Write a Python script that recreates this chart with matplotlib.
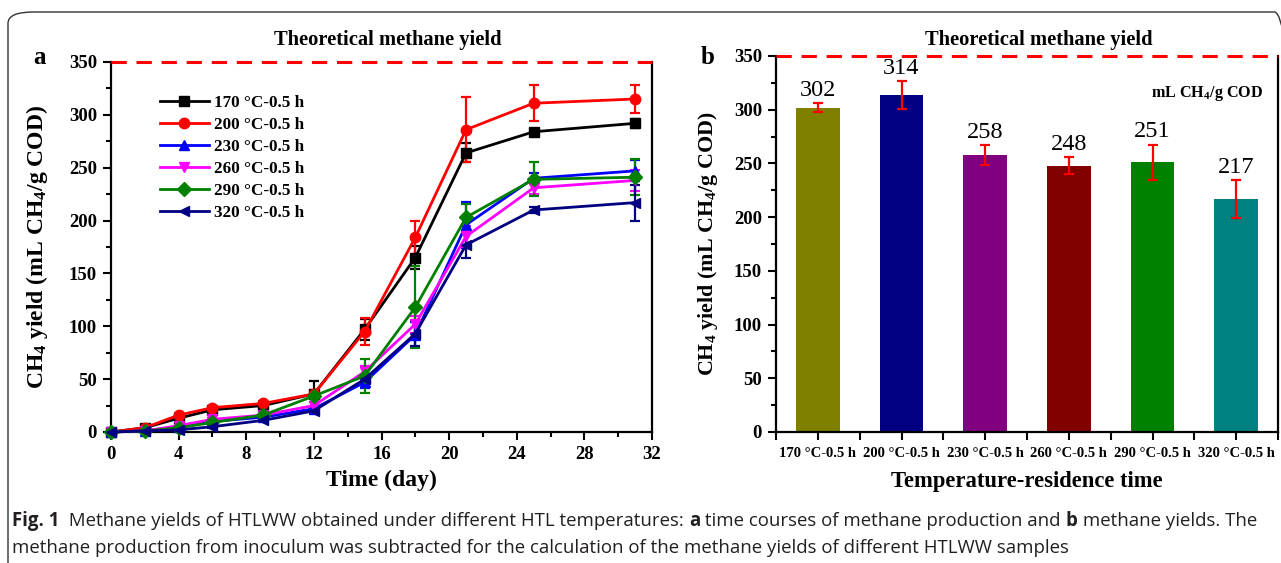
import matplotlib
matplotlib.use('Agg')
import matplotlib.pyplot as plt
from matplotlib.patches import FancyBboxPatch
from matplotlib.ticker import MultipleLocator
from matplotlib import font_manager
from matplotlib.font_manager import FontProperties

# ---------------- data ----------------
days = [0, 2, 4, 6, 9, 12, 15, 18, 21, 25, 31]
series_labels = ['170 °C-0.5 h', '200 °C-0.5 h', '230 °C-0.5 h',
                 '260 °C-0.5 h', '290 °C-0.5 h', '320 °C-0.5 h']
y170 = [0, 4, 13, 21, 25, 36, 97, 165, 264, 284, 292]
y200 = [0, 4, 16, 23, 27, 36, 95, 184, 286, 311, 315]
y230 = [0, 1, 5, 10, 14, 22, 47, 92, 196, 240, 247]
y260 = [0, 1, 6, 12, 16, 25, 57, 102, 185, 231, 238]
y290 = [0, 1, 4, 9, 16, 34, 53, 118, 203, 239, 241]
y320 = [0, 1, 2, 5, 11, 20, 50, 93, 177, 210, 217]
e170 = [0, 1, 1, 1, 2, 12, 10, 11, 9, 3, 4]
e200 = [0, 1, 2, 2, 2, 4, 13, 16, 31, 17, 13]
e230 = [0, 0, 1, 1, 1, 2, 5, 12, 22, 5, 10]
e260 = [0, 0, 1, 1, 1, 3, 5, 8, 10, 6, 10]
e290 = [0, 0, 1, 1, 1, 2, 16, 39, 13, 16, 17]
e320 = [0, 0, 1, 1, 1, 2, 4, 12, 12, 3, 17]

bar_categories = ['170 °C-0.5 h', '200 °C-0.5 h', '230 °C-0.5 h',
                  '260 °C-0.5 h', '290 °C-0.5 h', '320 °C-0.5 h']
bar_values = [302, 314, 258, 248, 251, 217]
bar_errors = [4.5, 13, 9, 8, 16.5, 17.5]
theoretical = 350

line_colors = ['#000000', '#FF0000', '#0000FF', '#FF00FF', '#008000', '#000080']
markers = ['s', 'o', '^', 'v', 'D', '<']
bar_colors = ['#808000', '#000080', '#800080', '#800000', '#008000', '#008080']

# ---------------- style ----------------
serif = 'Liberation Serif'
plt.rcParams['font.family'] = [serif, 'DejaVu Serif']
plt.rcParams['mathtext.fontset'] = 'custom'
plt.rcParams['mathtext.rm'] = 'Liberation Serif:bold'
plt.rcParams['mathtext.bf'] = 'Liberation Serif:bold'
plt.rcParams['mathtext.it'] = 'Liberation Serif:bold:italic'

W, H = 1281, 563
fig = plt.figure(figsize=(W / 100, H / 100), dpi=100)


def fx(px):
    return px / W


def fy(py):
    return 1 - py / H


# outer rounded frame
frame = FancyBboxPatch((fx(8), fy(600)), fx(1300) - fx(8), fy(12) - fy(600),
                       boxstyle='round,pad=0,rounding_size=0.02',
                       transform=fig.transFigure, fill=False,
                       edgecolor='#333333', linewidth=1.0, clip_on=False)
fig.add_artist(frame)

tick_fs = 13.5


def style_axes(ax):
    ax.spines['top'].set_visible(False)
    for s in ['left', 'bottom', 'right']:
        ax.spines[s].set_linewidth(1.6)
    ax.tick_params(which='both', direction='out', width=1.5, right=False, top=False)
    ax.tick_params(which='major', length=6, labelsize=tick_fs, pad=4)
    ax.tick_params(which='minor', length=3.5)
    for lab in ax.get_yticklabels() + ax.get_xticklabels():
        lab.set_fontweight('bold')


# ---------------- panel a ----------------
axa = fig.add_axes([fx(111), fy(432), fx(652) - fx(111), fy(62) - fy(432)])
all_y = [y170, y200, y230, y260, y290, y320]
all_e = [e170, e200, e230, e260, e290, e320]
for yv, ev, c, m, lab in zip(all_y, all_e, line_colors, markers, series_labels):
    axa.errorbar(days, yv, yerr=ev, color=c, marker=m, markersize=7.5,
                 linewidth=2.0, elinewidth=1.6, capsize=3.8, capthick=1.6,
                 label=lab, clip_on=False, zorder=3)
axa.set_xlim(0, 32)
axa.set_ylim(0, 350)
axa.xaxis.set_major_locator(MultipleLocator(4))
axa.xaxis.set_minor_locator(MultipleLocator(2))
axa.yaxis.set_major_locator(MultipleLocator(50))
axa.yaxis.set_minor_locator(MultipleLocator(25))
style_axes(axa)
axa.axhline(theoretical, color='#FF0000', linestyle=(0, (5, 3.2)), linewidth=2.2,
            clip_on=False, zorder=4)
axa.set_xlabel('Time (day)', fontsize=17, fontweight='bold', labelpad=5)
axa.set_ylabel('CH$_4$ yield (mL CH$_4$/g COD)', fontsize=17, fontweight='bold',
               labelpad=14)
handles, labels = axa.get_legend_handles_labels()
handles = [h[0] for h in handles]
axa.legend(handles, labels, loc='upper left', bbox_to_anchor=(0.09, 0.912),
           frameon=False, handlelength=2.9, handletextpad=0.25, labelspacing=0.36,
           borderaxespad=0, borderpad=0,
           prop=FontProperties(family=serif, weight='bold', size=12.3))

fig.text(fx(388), fy(40), 'Theoretical methane yield', ha='center', va='center',
         fontsize=14.8, fontweight='bold')
fig.text(fx(40), fy(58), 'a', ha='center', va='center', fontsize=18, fontweight='bold')

# ---------------- panel b ----------------
axb = fig.add_axes([fx(776), fy(432), fx(1278) - fx(776), fy(56) - fy(432)])
xpos = list(range(len(bar_categories)))
axb.bar(xpos, bar_values, width=0.52, color=bar_colors, zorder=2)
axb.errorbar(xpos, bar_values, yerr=bar_errors, fmt='none', ecolor='#FF0000',
             elinewidth=1.6, capsize=3.8, capthick=1.6, zorder=3)
for xi, v, e in zip(xpos, bar_values, bar_errors):
    axb.text(xi, v + e + 2, '%d' % v, ha='center', va='bottom', fontsize=17.5,
             fontweight='normal', zorder=1)
axb.set_xlim(-0.5, 5.5)
axb.set_ylim(0, 350)
axb.set_xticks(xpos)
axb.set_xticklabels(bar_categories)
axb.xaxis.set_minor_locator(MultipleLocator(0.5))
axb.yaxis.set_major_locator(MultipleLocator(50))
axb.yaxis.set_minor_locator(MultipleLocator(25))
style_axes(axb)
axb.tick_params(axis='x', which='both', length=6)
axb.tick_params(axis='x', which='major', labelsize=10.5, pad=5)
for lab in axb.get_xticklabels():
    lab.set_fontweight('bold')
axb.axhline(theoretical, color='#FF0000', linestyle=(0, (5, 3.2)), linewidth=2.2,
            clip_on=False, zorder=4)
axb.set_xlabel('Temperature-residence time', fontsize=16.3, fontweight='bold',
               labelpad=8)
axb.set_ylabel('CH$_4$ yield (mL CH$_4$/g COD)', fontsize=15.8, fontweight='bold',
               labelpad=10)
axb.text(0.97, 0.9, 'mL CH$_4$/g COD', transform=axb.transAxes, ha='right',
         va='center', fontsize=11.6, fontweight='bold')
fig.text(fx(1039), fy(40), 'Theoretical methane yield', ha='center', va='center',
         fontsize=14.8, fontweight='bold')
fig.text(fx(708), fy(58), 'b', ha='center', va='center', fontsize=18, fontweight='bold')

# ---------------- caption ----------------
cap_family = 'DejaVu Sans'
for cand in ['Liberation Sans Narrow', 'Open Sans', 'Noto Sans']:
    try:
        font_manager.findfont(FontProperties(family=cand), fallback_to_default=False)
        cap_family = cand
        break
    except Exception:
        pass

line1 = [('Fig. 1', 'bold'),
         ('  Methane yields of HTLWW obtained under different HTL temperatures: ', 'normal'),
         ('a', 'bold'), (' time courses of methane production and ', 'normal'),
         ('b', 'bold'), (' methane yields. The', 'normal')]
line2 = [('methane production from inoculum was subtracted for the calculation of the '
          'methane yields of different HTLWW samples', 'normal')]

renderer = fig.canvas.get_renderer()


def measure(pieces, size):
    total = 0
    for s, w in pieces:
        t = fig.text(0, 0, s, family=cap_family, fontweight=w, fontsize=size)
        total += t.get_window_extent(renderer).width
        t.remove()
    return total


base = 11
wid = measure(line1, base)
cap_size = min(base * 1250 / wid, 13.5)


def place(pieces, x0, ypix, size):
    x = x0
    for s, w in pieces:
        t = fig.text(fx(x), fy(ypix), s, family=cap_family, fontweight=w,
                     fontsize=size, ha='left', va='center', color='#231f20')
        x += t.get_window_extent(renderer).width


place(line1, 12, 521, cap_size)
place(line2, 12, 548, cap_size)

fig.savefig('out.png', dpi=100)
